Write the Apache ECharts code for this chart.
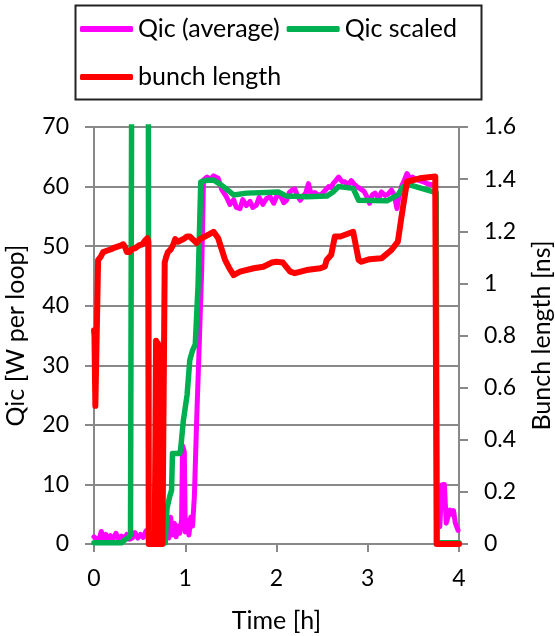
<!DOCTYPE html>
<html>
<head>
<meta charset="utf-8">
<script src="https://cdn.jsdelivr.net/npm/echarts@6/dist/echarts.min.js"></script>
<style>html,body{margin:0;padding:0;background:#fff;}#c{width:555px;height:636px;}</style>
</head>
<body>
<div id="c"></div>
<script>
// ---- data ----
const xTicks = [0, 1, 2, 3, 4];
const leftTicks = [0, 10, 20, 30, 40, 50, 60, 70];
const rightTicks = [0, 0.2, 0.4, 0.6, 0.8, 1, 1.2, 1.4, 1.6];

const qicAvgT = [0.00,0.03,0.06,0.08,0.10,0.13,0.15,0.18,0.21,0.24,0.27,0.30,0.33,0.36,0.39,0.42,0.45,0.48,0.51,0.54,0.57,0.60,0.65,0.70,0.75,0.78,0.80,0.82,0.84,0.86,0.88,0.90,0.92,0.94,0.96,0.97,0.99,1.00,1.02,1.04,1.06,1.08,1.10,1.125,1.15,1.18,1.20,1.24,1.27,1.31,1.36,1.40,1.45,1.49,1.53,1.56,1.60,1.63,1.67,1.71,1.74,1.78,1.81,1.85,1.89,1.93,1.97,2.00,2.04,2.08,2.11,2.14,2.17,2.20,2.23,2.26,2.29,2.32,2.35,2.38,2.42,2.46,2.50,2.54,2.57,2.60,2.62,2.65,2.68,2.72,2.75,2.78,2.82,2.85,2.88,2.92,2.96,2.99,3.02,3.05,3.08,3.12,3.15,3.19,3.22,3.26,3.29,3.32,3.34,3.37,3.40,3.43,3.46,3.49,3.53,3.57,3.61,3.65,3.70,3.74,3.755,3.79,3.81,3.84,3.86,3.88,3.90,3.92,3.94,3.96,3.99];
const qicAvgV = [1.2,0.8,1.0,2.1,0.7,1.6,0.8,1.4,0.9,1.8,0.8,1.3,0.9,1.6,0.8,1.0,1.9,1.0,1.6,1.1,2.2,1.2,1.5,1.2,1.8,1.0,2.4,1.0,4.5,1.5,3.5,1.2,3.0,1.8,4.0,16.5,15.5,2.0,4.0,1.5,4.5,3.0,8.0,20.8,32,46,61.1,61.6,61.2,61.8,61.4,59.5,58.3,57.0,57.8,56.5,56.3,57.8,56.8,57.5,56.5,56.9,58.2,57.0,58.0,58.3,57.2,58.3,58.6,57.3,57.7,59.0,59.4,59.6,58.5,57.7,58.4,58.9,60.5,58.7,59.0,58.5,58.8,59.5,60.0,59.8,60.5,61.0,61.6,60.8,60.8,60.2,61.0,60.4,60.0,59.6,59.2,58.3,57.2,58.6,58.9,58.0,59.1,58.5,58.7,59.4,58.6,56.3,58.2,60.0,61.0,62.2,61.4,61.6,61.2,61.0,60.8,60.5,60.3,60.2,2.9,2.9,9.9,10.0,3.5,3.8,5.7,5.0,5.6,3.5,2.3];

const qicScaledT = [0.00,0.30,0.33,0.37,0.40,0.415,0.595,0.60,0.78,0.80,0.83,0.85,0.86,0.94,0.95,0.98,1.02,1.05,1.08,1.11,1.14,1.17,1.22,1.31,1.40,1.53,1.67,1.89,2.02,2.11,2.33,2.55,2.62,2.68,2.84,2.90,3.21,3.33,3.39,3.46,3.72,3.75,3.76,4.00];
const qicScaledV = [0.2,0.2,0.6,1.0,1.5,90,90,0.2,0.2,6.0,8.0,9.0,15.2,15.2,16.0,20.8,25.0,30.9,32.5,33.5,43.2,60.8,61.0,61.1,60.2,58.6,58.9,59.0,59.1,58.4,58.3,58.4,59.1,60.0,59.7,57.7,57.6,58.6,60.0,60.3,59.1,59.0,0.2,0.2];

const bunchT = [0.00,0.005,0.015,0.035,0.045,0.07,0.10,0.14,0.18,0.21,0.25,0.29,0.32,0.34,0.36,0.39,0.41,0.45,0.50,0.53,0.56,0.585,0.595,0.600,0.665,0.675,0.68,0.69,0.70,0.71,0.72,0.73,0.74,0.75,0.76,0.775,0.79,0.81,0.84,0.87,0.89,0.906,0.92,0.94,0.98,1.02,1.05,1.08,1.125,1.16,1.216,1.27,1.31,1.36,1.40,1.436,1.48,1.53,1.60,1.75,1.855,1.95,2.00,2.07,2.15,2.20,2.33,2.48,2.53,2.55,2.60,2.64,2.70,2.84,2.90,2.93,3.02,3.15,3.26,3.33,3.37,3.43,3.57,3.74,3.755,4.00];
const bunchV = [0.82,0.80,0.53,0.53,1.09,1.10,1.12,1.125,1.13,1.135,1.14,1.145,1.15,1.14,1.12,1.12,1.13,1.135,1.147,1.15,1.165,1.173,1.16,0,0,0,0.78,0,0.77,0,0.76,0,0.72,0,0,1.08,1.10,1.12,1.13,1.15,1.17,1.175,1.16,1.16,1.17,1.18,1.18,1.17,1.155,1.17,1.18,1.19,1.198,1.174,1.13,1.09,1.06,1.032,1.045,1.058,1.064,1.08,1.083,1.08,1.045,1.039,1.051,1.058,1.065,1.09,1.11,1.18,1.18,1.198,1.09,1.083,1.093,1.096,1.128,1.16,1.256,1.39,1.403,1.41,0,0];

const seriesNames = ['Qic (average)', 'Qic scaled', 'bunch length'];
const seriesColors = ['#FF00FF', '#00B050', '#FF0000'];

function zip(t, v) { return t.map((x, i) => [x, v[i]]); }

const FONT = 'Lato';
const FS = 23;     // tick labels
const FT = 25;     // legend & axis names
const AX = '#898989';

const chart = echarts.init(document.getElementById('c'), null, {renderer: 'canvas'});
chart.setOption({
  animation: false,
  backgroundColor: '#fff',
  textStyle: {fontFamily: FONT},
  graphic: [{
    type: 'rect', left: 73, top: 3, z: 100,
    shape: {width: 406, height: 94},
    style: {fill: 'none', stroke: '#222', lineWidth: 2}
  }],
  legend: [{
    data: [seriesNames[0], seriesNames[1]],
    left: 80, top: 15, padding: 0, itemGap: 7,
    itemWidth: 53, itemHeight: 6, icon: 'roundRect',
    textStyle: {fontFamily: FONT, fontSize: FT, color: '#000', lineHeight: 28}
  }, {
    data: [seriesNames[2]],
    left: 80, top: 63, padding: 0,
    itemWidth: 53, itemHeight: 6, icon: 'roundRect',
    textStyle: {fontFamily: FONT, fontSize: FT, color: '#000', lineHeight: 28}
  }],
  grid: {left: 94, right: 96, top: 127, bottom: 92, containLabel: false, outerBoundsMode: 'none'},
  xAxis: {
    type: 'value', min: xTicks[0], max: xTicks[xTicks.length - 1], interval: 1,
    name: 'Time [h]', nameLocation: 'middle', nameGap: 64,
    nameTextStyle: {fontFamily: FONT, fontSize: FT, color: '#000'},
    axisLine: {show: true, lineStyle: {color: AX, width: 2}},
    axisTick: {show: true, inside: false, length: 8, lineStyle: {color: AX, width: 2}},
    axisLabel: {fontFamily: FONT, fontSize: FS, color: '#000', margin: 23},
    splitLine: {show: false}
  },
  yAxis: [{
    type: 'value', min: leftTicks[0], max: leftTicks[leftTicks.length - 1], interval: 10,
    name: 'Qic [W per loop]', nameLocation: 'middle', nameGap: 66,
    nameTextStyle: {fontFamily: FONT, fontSize: FT, color: '#000'},
    axisLine: {show: true, lineStyle: {color: AX, width: 2}},
    axisTick: {show: true, inside: false, length: 9, lineStyle: {color: AX, width: 2}},
    axisLabel: {fontFamily: FONT, fontSize: FS, color: '#000', margin: 25},
    splitLine: {show: true, lineStyle: {color: AX, width: 2}}
  }, {
    type: 'value', position: 'right', min: rightTicks[0], max: rightTicks[rightTicks.length - 1], interval: 0.2,
    name: 'Bunch length [ns]', nameLocation: 'middle', nameGap: 70,
    nameTextStyle: {fontFamily: FONT, fontSize: FT, color: '#000'},
    axisLine: {show: true, lineStyle: {color: AX, width: 2}},
    axisTick: {show: true, inside: false, length: 9, lineStyle: {color: AX, width: 2}},
    axisLabel: {fontFamily: FONT, fontSize: FS, color: '#000', margin: 25},
    splitLine: {show: false}
  }],
  series: [{
    name: seriesNames[0], type: 'line', yAxisIndex: 0, color: seriesColors[0],
    data: zip(qicAvgT, qicAvgV), showSymbol: false, symbol: 'none', clip: true,
    lineStyle: {width: 5, color: seriesColors[0], cap: 'round', join: 'round'}
  }, {
    name: seriesNames[1], type: 'line', yAxisIndex: 0, color: seriesColors[1],
    data: zip(qicScaledT, qicScaledV), showSymbol: false, symbol: 'none', clip: true,
    lineStyle: {width: 5.5, color: seriesColors[1], cap: 'round', join: 'round'}
  }, {
    name: seriesNames[2], type: 'line', yAxisIndex: 1, color: seriesColors[2],
    data: zip(bunchT, bunchV), showSymbol: false, symbol: 'none', clip: true,
    lineStyle: {width: 6, color: seriesColors[2], cap: 'round', join: 'round'}
  }]
});
</script>
</body>
</html>
